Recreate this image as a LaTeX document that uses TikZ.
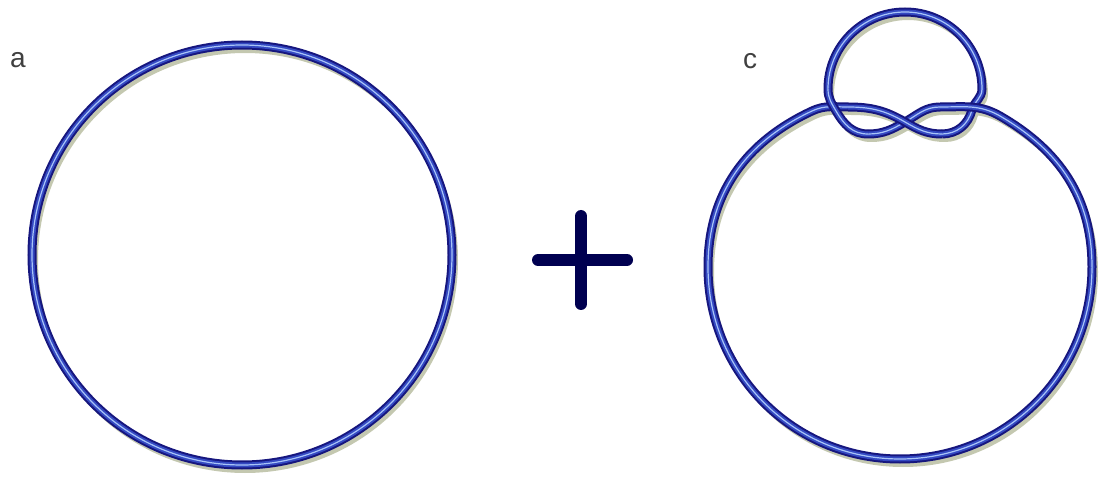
\documentclass[tikz,border=0pt]{standalone}
\usepackage{fontspec}
\setsansfont{Liberation Sans}
\usetikzlibrary{calc}
\definecolor{cdark}{HTML}{16167E}
\definecolor{cmid}{HTML}{3449C2}
\definecolor{clight}{HTML}{A8C4F8}
\definecolor{cnavy}{HTML}{000050}
\definecolor{cshadow}{HTML}{C4C8B0}
\tikzset{
  every picture/.style={x=1pt, y=1pt, font=\sffamily},
  tube/.style={draw=cdark, line width=9pt,
    postaction={draw=cmid, line width=5pt},
    postaction={draw=clight, line width=1.2pt}},
  ringshadow/.style={draw=cshadow, line width=6pt, transform canvas={shift={(3pt,-5pt)}}},
  tag/.style={font=\fontsize{28}{28}\selectfont\sffamily, text=black!75, inner sep=0pt},
  plusbar/.style={draw=cnavy, line width=12pt, line cap=round},
}

\begin{document}
\begin{tikzpicture}
  \useasboundingbox (0,0) rectangle (1112,488);
  \coordinate (Pa) at (848,381);
  \coordinate (M) at (905,366);
  \coordinate (Pb) at (942,354);
  \coordinate (R) at (972,378);
  \coordinate (Q1) at (982,399);
  \coordinate (T) at (905,476);
  \coordinate (Q2) at (828,399);
  \coordinate (L) at (836,377);
  \coordinate (Pc) at (868,354);
  \coordinate (Pd) at (940,381);
  \coordinate (E) at (1000,372);
  \coordinate (Ea) at (1092,221);
  \coordinate (Bt) at (900,29);
  \coordinate (W) at (708,221);
  \coordinate (F) at (812,377);
  \def\ringa{(242,233) circle[radius=210]}
  \def\loopup{(Pb) to[out=0,in=255] (R) to[out=75,in=270] (Q1) to[out=90,in=0] (T) to[out=180,in=90] (Q2)}
  \def\lensmid{(Pc) to[out=0,in=210] (M) to[out=30,in=180] (Pd)}
  \def\ringbig{(Ea) to[out=-90,in=0] (Bt) to[out=180,in=-90] (W) to[out=90,in=205] (F) to[out=25,in=180] (Pa)}
  \def\crossl{(Q2) to[out=270,in=120] (L) to[out=300,in=180] (Pc)}
  \def\crossr{(Pd) to[out=0,in=150] (E) to[out=-30,in=90] (Ea)}
  \def\crossm{(Pa) to[out=0,in=150] (M) to[out=-30,in=180] (Pb)}
  \foreach \p in {\ringa, \loopup, \lensmid, \ringbig, \crossl, \crossr, \crossm}
    \draw[ringshadow] \p;
  \node[tag] (a) at (18,428) {a};
  \draw[tube] \ringa;
  \coordinate (plus) at (581,228);
  \draw[plusbar] ($(plus)+(-43,0)$) -- ($(plus)+(46,0)$);
  \draw[plusbar] ($(plus)+(0,44)$) -- ($(plus)+(0,-44)$);
  \node[tag] (c) at (750,427) {c};
  % under strands first, then the ones that pass over
  \draw[tube] \loopup;
  \draw[tube] \lensmid;
  \draw[tube] \ringbig;
  \draw[tube] \crossl;
  \draw[tube] \crossr;
  \draw[tube] \crossm;
\end{tikzpicture}
\end{document}
